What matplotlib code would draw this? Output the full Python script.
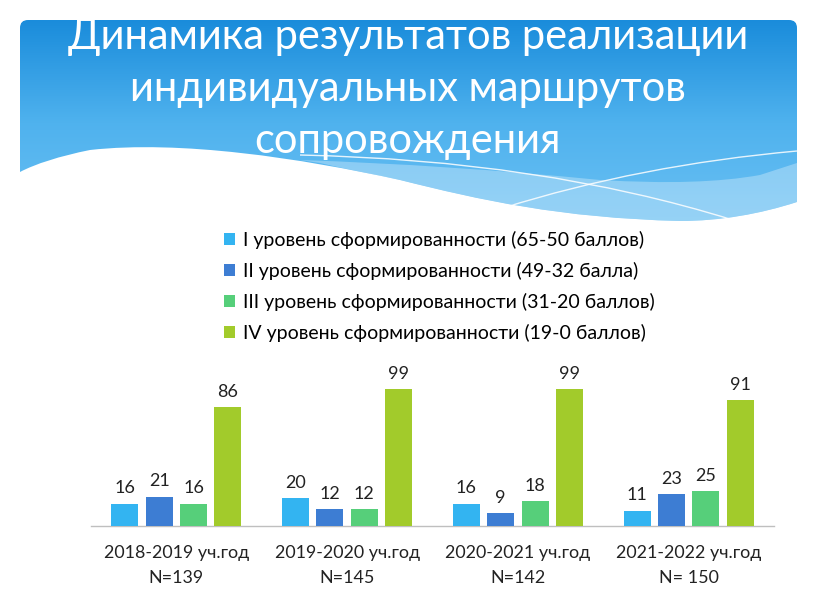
import numpy as np
import matplotlib
matplotlib.use("Agg")
import matplotlib.pyplot as plt
from matplotlib.patches import Patch, PathPatch
from matplotlib.path import Path
import matplotlib.colors as mcolors

# ---- data ----
years = ["2018-2019 уч.год\nN=139", "2019-2020 уч.год\nN=145",
         "2020-2021 уч.год\nN=142", "2021-2022 уч.год\nN= 150"]
level1 = [16, 20, 16, 11]
level2 = [21, 12, 9, 23]
level3 = [16, 12, 18, 25]
level4 = [86, 99, 99, 91]
series_names = ["I уровень сформированности (65-50 баллов)",
                "II уровень сформированности (49-32 балла)",
                "III уровень сформированности (31-20 баллов)",
                "IV уровень сформированности (19-0 баллов)"]
colors = ["#33B4F1", "#3D7DD3", "#56CF7A", "#A2CB2B"]
title = "Динамика результатов реализации\nиндивидуальных маршрутов\nсопровождения"

W, H = 816, 613
fig = plt.figure(figsize=(W / 100, H / 100), dpi=100)
fig.patch.set_facecolor("white")

# ---- header decoration (pixel coordinates) ----
bg = fig.add_axes([0, 0, 1, 1], zorder=0)
bg.set_xlim(0, W)
bg.set_ylim(H, 0)
bg.axis("off")

grad = np.linspace(0, 1, 256).reshape(-1, 1)
cmap = mcolors.LinearSegmentedColormap.from_list("hdr", ["#1A8CDB", "#4FB2EE", "#6AC0F3"])
im = bg.imshow(grad, cmap=cmap, extent=[20, 797, 225, 20], aspect="auto", zorder=1)

verts = [(20, 172), (20, 28), (20, 20), (28, 20), (789, 20), (797, 20), (797, 28),
         (797, 202),
         (760, 214), (720, 221), (680, 221),
         (560, 218), (480, 200), (400, 180),
         (300, 158), (180, 140), (90, 150),
         (60, 156), (35, 164), (20, 172)]
codes = [Path.MOVETO, Path.LINETO, Path.CURVE3, Path.CURVE3, Path.LINETO, Path.CURVE3, Path.CURVE3,
         Path.LINETO,
         Path.CURVE4, Path.CURVE4, Path.CURVE4,
         Path.CURVE4, Path.CURVE4, Path.CURVE4,
         Path.CURVE4, Path.CURVE4, Path.CURVE4,
         Path.CURVE4, Path.CURVE4, Path.CURVE4]
clip = PathPatch(Path(verts, codes), transform=bg.transData, facecolor="none", edgecolor="none")
bg.add_patch(clip)
im.set_clip_path(clip)

band_v = [(300, 160), (450, 165), (600, 180), (700, 186), (760, 175), (797, 163),
          (797, 202), (760, 214), (720, 221), (680, 221),
          (560, 218), (480, 200), (400, 180), (350, 170), (320, 163), (300, 160)]
band_c = [Path.MOVETO, Path.CURVE3, Path.CURVE3, Path.CURVE3, Path.CURVE3, Path.LINETO,
          Path.LINETO, Path.CURVE4, Path.CURVE4, Path.CURVE4,
          Path.CURVE4, Path.CURVE4, Path.CURVE4, Path.CURVE3, Path.CURVE3, Path.LINETO]
band = PathPatch(Path(band_v, band_c), facecolor="white", edgecolor="none", alpha=0.3, zorder=2)
bg.add_patch(band)
band.set_clip_path(clip)

la = Path([(300, 155), (540, 160), (733, 220)], [Path.MOVETO, Path.CURVE3, Path.CURVE3])
lb = Path([(503, 208), (640, 165), (797, 151)], [Path.MOVETO, Path.CURVE3, Path.CURVE3])
for p in (la, lb):
    pp = PathPatch(p, facecolor="none", edgecolor="white", lw=1.0, alpha=0.85, zorder=3)
    bg.add_patch(pp)
    pp.set_clip_path(clip)

# title
bg.text(408, 89, title, ha="center", va="center", color="white",
        fontsize=30, family="Lato", linespacing=1.45, zorder=5)

# ---- bar chart ----
base_px = 525.7
px_per_unit = 1.378
ymax = 120
ax_h = ymax * px_per_unit
ax = fig.add_axes([91 / W, (H - base_px) / H, (774 - 91) / W, ax_h / H], zorder=2)
ax.patch.set_alpha(0)

x = np.arange(len(years))
step = 0.201
width = 0.158
all_series = [level1, level2, level3, level4]
for i, (vals, c) in enumerate(zip(all_series, colors)):
    pos = x + (i - 1.5) * step
    ax.bar(pos, vals, width=width, color=c, zorder=3)
    for xp, v in zip(pos, vals):
        ax.annotate(str(v), (xp, v), xytext=(0, 11), textcoords="offset points",
                    ha="center", va="center", fontsize=13, family="Lato", color="#222222")

ax.set_xlim(-0.5, 3.5)
ax.set_ylim(0, ymax)
ax.set_yticks([])
for s in ["top", "right", "left"]:
    ax.spines[s].set_visible(False)
ax.spines["bottom"].set_color("#BFBFBF")
ax.spines["bottom"].set_linewidth(1.0)
ax.set_xticks(x)
ax.set_xticklabels(years, fontsize=12.9, family="Lato", color="#222222", linespacing=1.7)
ax.tick_params(axis="x", length=0, pad=14)

handles = [Patch(facecolor=c, edgecolor="none") for c in colors]
fig.legend(handles, series_names, loc="upper left", bbox_to_anchor=(224 / W, 1 - 231 / H),
           frameon=False, prop={"family": "Lato", "size": 14}, handlelength=0.55, handleheight=0.55,
           handletextpad=0.45, labelspacing=0.66, borderaxespad=0, borderpad=0)

fig.savefig("out.png", dpi=100)
